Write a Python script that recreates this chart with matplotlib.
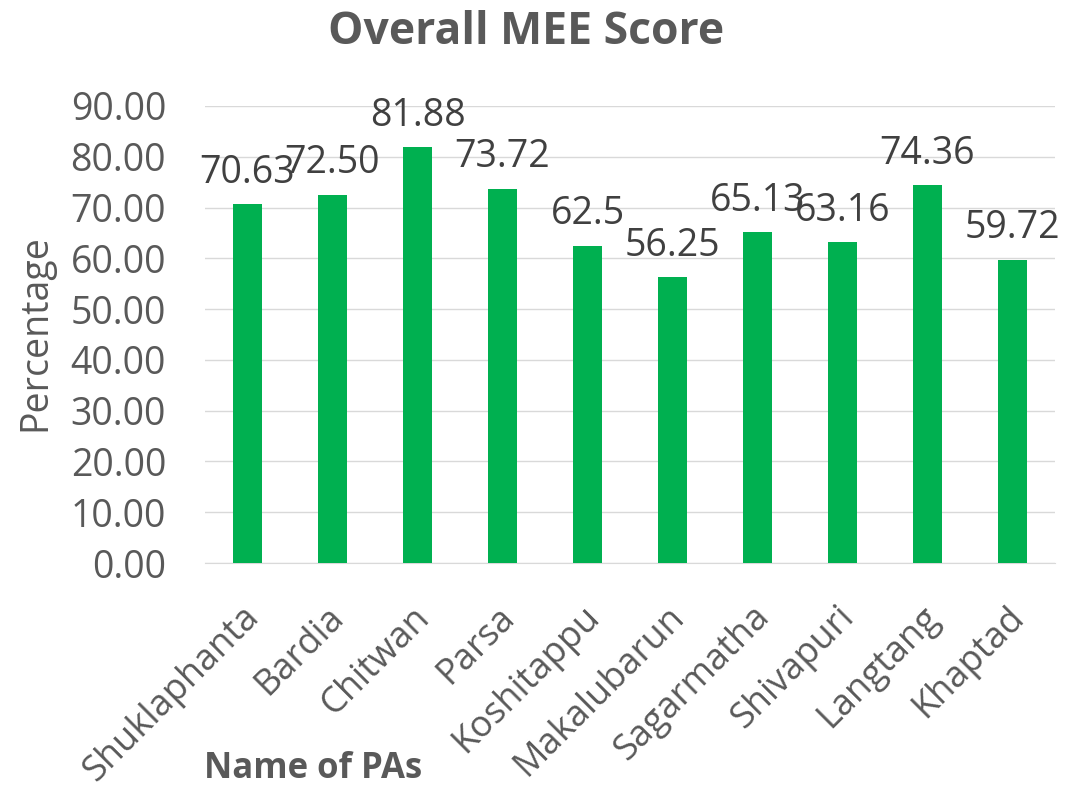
import matplotlib
matplotlib.use("Agg")
import matplotlib.pyplot as plt
import matplotlib.transforms as mtransforms

categories = ["Shuklaphanta", "Bardia", "Chitwan", "Parsa", "Koshitappu",
              "Makalubarun", "Sagarmatha", "Shivapuri", "Langtang", "Khaptad"]
values = [70.63, 72.50, 81.88, 73.72, 62.5, 56.25, 65.13, 63.16, 74.36, 59.72]
value_labels = ["70.63", "72.50", "81.88", "73.72", "62.5",
                "56.25", "65.13", "63.16", "74.36", "59.72"]
yticks = [0, 10, 20, 30, 40, 50, 60, 70, 80, 90]

plt.rcParams['font.family'] = ['Open Sans', 'DejaVu Sans']
txt = '#595959'

fig = plt.figure(figsize=(10.78, 7.92), dpi=100)
ax = fig.add_axes([205/1078, 1-563/792, 850/1078, (563-106)/792])
x = range(len(categories))
bars = ax.bar(x, values, width=0.33, color='#00B050', zorder=3)
for b, lab in zip(bars, value_labels):
    ax.annotate(lab, (b.get_x() + b.get_width()/2, b.get_height()),
                xytext=(0, 9), textcoords='offset points',
                ha='center', va='bottom', fontsize=27, color='#404040', zorder=4)

ax.set_ylim(0, 90)
ax.set_xlim(-0.5, len(categories) - 0.5)
ax.set_yticks(yticks)
ax.set_yticklabels([f"{v:.2f}" for v in yticks], fontsize=27, color=txt)
ax.set_xticks(list(x))
ax.set_xticklabels(categories, rotation=45, ha='right', rotation_mode='anchor',
                   fontsize=26, color=txt)
ax.tick_params(axis='y', length=0, pad=28)
ax.tick_params(axis='x', length=0, pad=26)
shift = mtransforms.ScaledTranslation(-6/100, 0, fig.dpi_scale_trans)
for t in ax.get_xticklabels():
    t.set_transform(t.get_transform() + shift)
ax.grid(axis='y', color='#D9D9D9', linewidth=1, zorder=0)
for s in ['top', 'right', 'left']:
    ax.spines[s].set_visible(False)
ax.spines['bottom'].set_color('#D9D9D9')

fig.text(526/1078, 1-32/792, "Overall MEE Score", ha='center', va='center',
         fontsize=32, fontweight='bold', color=txt)
fig.text(35/1078, 1-333/792, "Percentage", rotation=90, ha='center', va='center',
         fontsize=27, color=txt)
fig.text(313/1078, 1-769/792, "Name of PAs", ha='center', va='center',
         fontsize=25, fontweight='bold', color=txt)

fig.savefig("out.png", dpi=100)
